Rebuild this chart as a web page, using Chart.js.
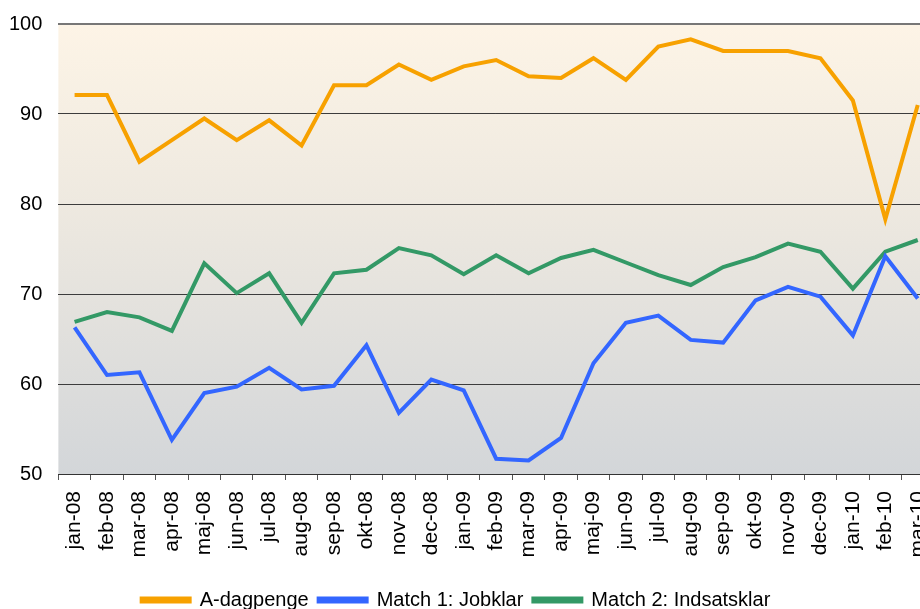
<!DOCTYPE html>
<html>
<head>
<meta charset="utf-8">
<script src="https://cdn.jsdelivr.net/npm/chart.js@4/dist/chart.umd.min.js"></script>
<style>
  html, body { margin: 0; padding: 0; background: #fff; overflow: hidden; }
  #wrap { width: 920px; height: 609px; overflow: hidden; position: relative; }
  #box { width: 971px; height: 624px; position: absolute; left: -17px; top: -4px; }
</style>
</head>
<body>
<div id="wrap"><div id="box"><canvas id="chart"></canvas></div></div>
<script>
// months (Danish abbreviations)
const months = ['jan-08','feb-08','mar-08','apr-08','maj-08','jun-08','jul-08','aug-08','sep-08','okt-08','nov-08','dec-08',
  'jan-09','feb-09','mar-09','apr-09','maj-09','jun-09','jul-09','aug-09','sep-09','okt-09','nov-09','dec-09',
  'jan-10','feb-10','mar-10'];
// A-dagpenge
const aDagpenge = [92.1, 92.1, 84.7, 87.1, 89.5, 87.1, 89.3, 86.5, 93.2, 93.2, 95.5, 93.8,
  95.3, 96.0, 94.2, 94.0, 96.2, 93.8, 97.5, 98.3, 97.0, 97.0, 97.0, 96.2,
  91.5, 78.3, 91.0];
// Match 1: Jobklar
const match1 = [66.3, 61.0, 61.3, 53.8, 59.0, 59.7, 61.8, 59.4, 59.8, 64.3, 56.8, 60.5,
  59.3, 51.7, 51.5, 54.0, 62.3, 66.8, 67.6, 64.9, 64.6, 69.3, 70.8, 69.7,
  65.4, 74.2, 69.5];
// Match 2: Indsatsklar
const match2 = [66.9, 68.0, 67.4, 65.9, 73.4, 70.1, 72.3, 66.8, 72.3, 72.7, 75.1, 74.3,
  72.2, 74.3, 72.3, 74.0, 74.9, 73.5, 72.1, 71.0, 73.0, 74.1, 75.6, 74.7,
  70.6, 74.7, 76.0];
const yTicks = [50, 60, 70, 80, 90, 100];

const FONT = 'Arial, "Liberation Sans", sans-serif';

//gradient behind the plot area
const plotBg = {
  id: 'plotBg',
  beforeDraw(chart) {
    const { ctx, chartArea: a } = chart;
    const g = ctx.createLinearGradient(0, a.top, 0, a.bottom);
    g.addColorStop(0, '#fdf4e6');
    g.addColorStop(0.4, '#eee9e0');
    g.addColorStop(1, '#d3d6d9');
    ctx.save();
    ctx.fillStyle = g;
    ctx.fillRect(a.left, a.top, a.right - a.left, a.bottom - a.top);
    ctx.restore();
  },
  afterLayout(chart) {
    // legend is centred on the visible 920px, not on the wider canvas
    if (chart.legend) chart.legend.right -= 32;
  }
};

function ds(label, data, color) {
  return {
    label: label,
    data: data,
    borderColor: color,
    backgroundColor: color,
    borderWidth: 4,
    pointRadius: 0,
    tension: 0,
    borderJoinStyle: 'miter'
  };
}

new Chart(document.getElementById('chart'), {
  type: 'line',
  plugins: [plotBg],
  data: {
    labels: months,
    datasets: [
      ds('A-dagpenge', aDagpenge, '#f7a100'),
      ds('Match 1: Jobklar', match1, '#3366ff'),
      ds('Match 2: Indsatsklar', match2, '#339966')
    ]
  },
  options: {
    responsive: true,
    maintainAspectRatio: false,
    animation: false,
    layout: { padding: { top: 19, left: 10, right: 3, bottom: 0 } },
    plugins: {
      tooltip: { enabled: false },
      legend: {
        position: 'bottom',
        labels: {
          boxWidth: 48,
          boxHeight: 3,
          padding: 10,
          color: '#000',
          font: { family: FONT, size: 20 }
        }
      }
    },
    scales: {
      x: {
        offset: true,
        grid: {
          offset: true,
          drawOnChartArea: false,
          tickLength: 6,
          color: '#555'
        },
        border: { color: '#333', width: 1 },
        ticks: {
          autoSkip: false,
          maxRotation: 90,
          minRotation: 90,
          padding: 11,
          color: '#000',
          font: { family: FONT, size: 21 }
        },
        afterFit(scale) { scale.height = 106; }
      },
      y: {
        min: 50,
        max: 100,
        afterBuildTicks(scale) { scale.ticks = yTicks.map(v => ({ value: v })); },
        grid: {
          drawTicks: false,
          color: c => (c.tick && c.tick.value === 100) ? '#777' : '#3c3c3c',
          lineWidth: c => (c.tick && c.tick.value === 100) ? 2 : 1
        },
        border: { display: false },
        ticks: {
          padding: 16,
          color: '#000',
          font: { family: FONT, size: 20 }
        }
      }
    }
  }
});
</script>
</body>
</html>
